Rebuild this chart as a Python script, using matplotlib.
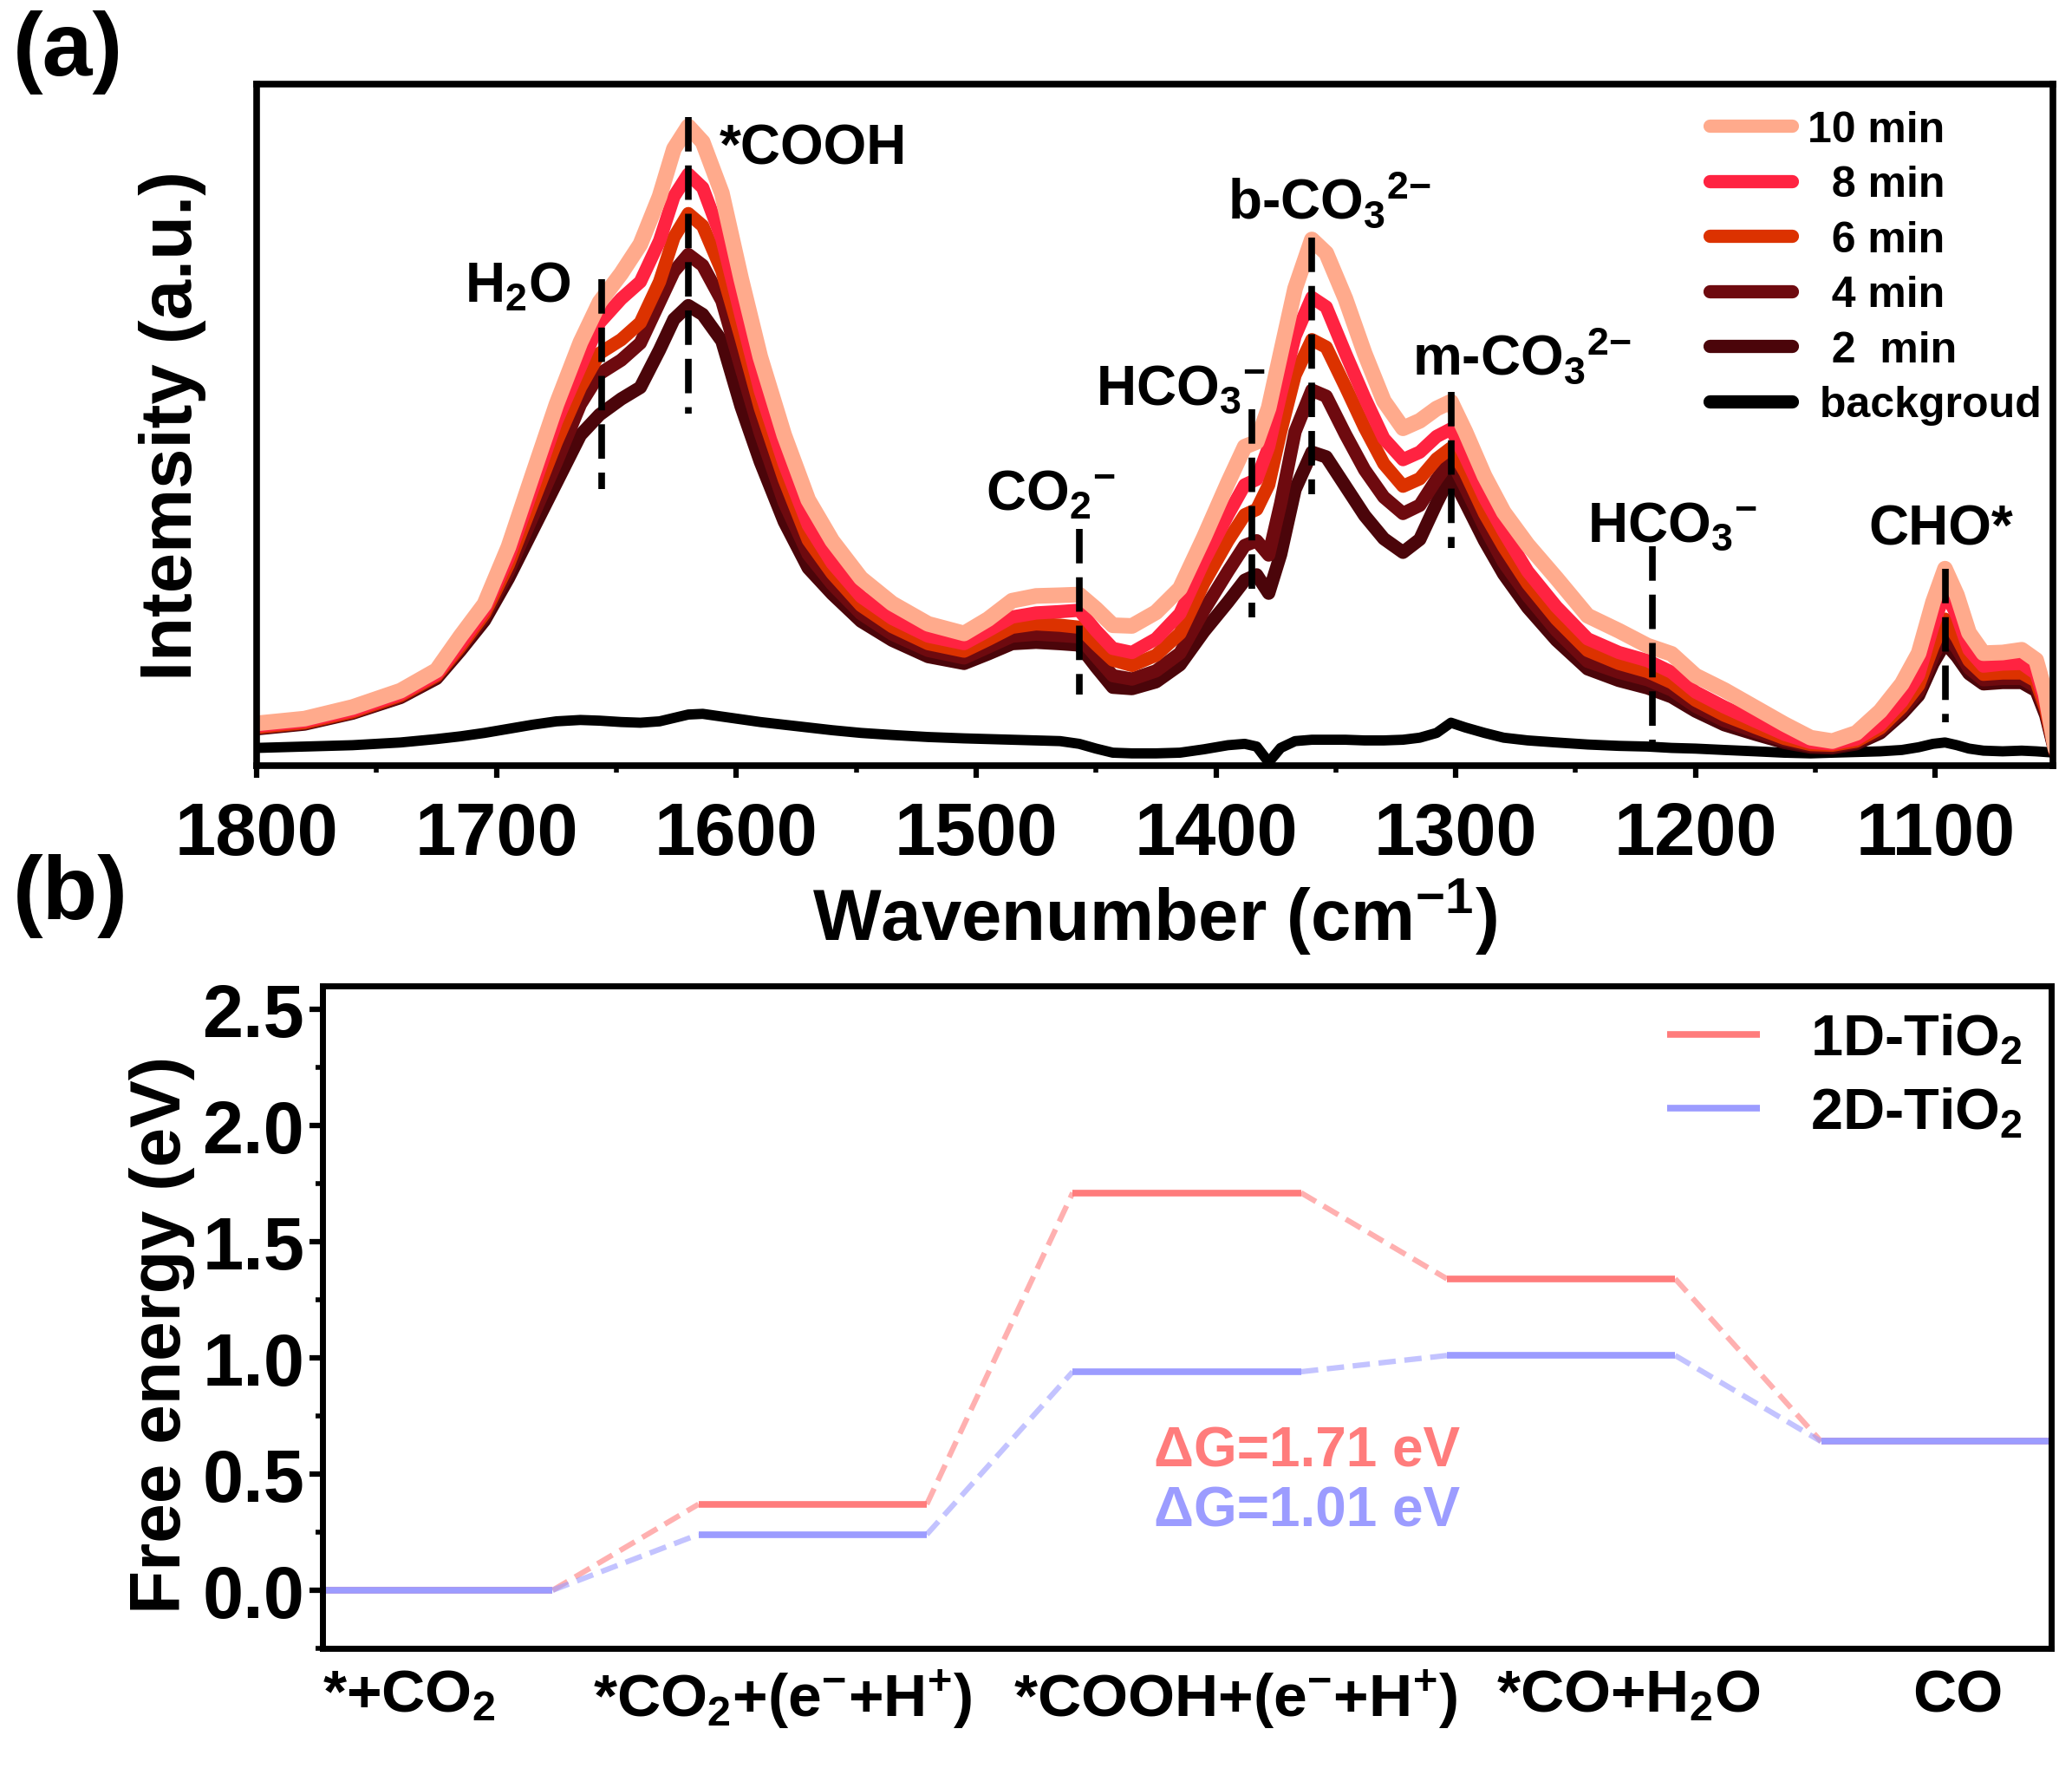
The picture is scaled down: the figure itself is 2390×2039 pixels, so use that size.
import matplotlib
matplotlib.use("Agg")
import matplotlib.pyplot as plt
from matplotlib.ticker import MultipleLocator, FormatStrFormatter

plt.rcParams["font.family"] = ["Liberation Sans", "DejaVu Sans"]
plt.rcParams["font.weight"] = "bold"
plt.rcParams["mathtext.fontset"] = "custom"
for k in ("rm", "it", "bf", "sf"):
    plt.rcParams["mathtext." + k] = "Liberation Sans:bold"

# ---- (a) in-situ spectra (a.u., 0 = bottom spine, 100 = top) ----
WN = [1800, 1780, 1760, 1740, 1725, 1715, 1705, 1695, 1685, 1675,
      1665, 1657, 1648, 1640, 1632, 1626, 1620, 1614, 1606, 1598,
      1590, 1580, 1570, 1560, 1548, 1535, 1520, 1505, 1495, 1485,
      1475, 1465, 1457, 1450, 1443, 1435, 1425, 1415, 1405, 1395,
      1388, 1383, 1378, 1373, 1367, 1360, 1354, 1346, 1338, 1330,
      1322, 1315, 1308, 1302, 1296, 1288, 1280, 1270, 1258, 1245,
      1232, 1220, 1210, 1200, 1188, 1175, 1163, 1152, 1143, 1133,
      1123, 1114, 1107, 1101, 1096, 1091, 1086, 1080, 1072, 1064,
      1058, 1054, 1050]

I_10 = [6.2, 6.9, 8.6, 11.0, 14.0, 19.0, 23.7, 32.1, 42.6, 53.0,
        62.1, 68.0, 72.2, 76.5, 83.5, 90.5, 93.8, 91.5, 84.0, 71.5,
        60.0, 48.5, 39.0, 33.0, 27.5, 23.8, 20.8, 19.4, 21.5, 24.2,
        24.9, 25.0, 25.1, 23.0, 20.6, 20.5, 22.5, 26.0, 33.5, 41.5,
        46.8, 47.5, 52.5, 60.5, 70.0, 77.2, 75.2, 68.5, 60.5, 53.5,
        49.5, 50.6, 52.4, 53.4, 49.0, 42.5, 37.2, 32.4, 27.5, 22.0,
        19.8, 17.6, 16.4, 13.2, 11.1, 8.5, 6.1, 4.1, 3.6, 4.8,
        8.0, 12.0, 16.5, 24.0, 28.9, 25.0, 19.5, 16.5, 16.6, 17.0,
        15.5, 10.5, 2.5]

I_8 = [5.8, 6.5, 8.1, 10.5, 13.4, 17.9, 22.8, 30.5, 40.5, 50.5,
       58.5, 65.0, 68.5, 71.0, 77.0, 83.5, 86.8, 84.8, 77.3, 66.0,
       55.0, 44.3, 35.3, 29.7, 24.8, 21.6, 19.0, 17.9, 19.8, 21.8,
       22.4, 22.6, 22.8, 19.8, 17.2, 16.6, 18.6, 22.3, 30.0, 36.8,
       41.2, 42.0, 46.8, 54.5, 63.0, 68.7, 67.3, 60.5, 54.0, 48.0,
       44.9, 46.0, 48.3, 49.4, 45.3, 39.3, 34.3, 28.5, 23.3, 18.6,
       16.6, 15.4, 13.7, 10.8, 8.6, 6.5, 4.6, 3.4, 3.2, 3.9,
       6.0, 9.4, 13.3, 20.5, 25.5, 22.0, 17.0, 14.6, 14.9, 15.0,
       13.5, 9.0, 2.2]

I_6 = [5.6, 6.3, 7.9, 10.3, 13.2, 17.5, 22.3, 29.5, 38.5, 47.5,
       55.5, 60.5, 62.5, 65.0, 71.0, 77.5, 81.0, 79.2, 72.6, 62.8,
       52.5, 42.0, 33.1, 28.2, 23.5, 20.4, 17.9, 16.8, 18.5, 20.3,
       20.8, 20.6, 20.3, 17.8, 15.5, 14.7, 16.2, 19.4, 26.8, 33.0,
       36.8, 37.6, 41.2, 49.0, 57.3, 62.5, 61.4, 55.6, 49.6, 44.3,
       41.0, 42.1, 45.0, 46.6, 43.0, 37.0, 32.1, 26.7, 21.5, 16.9,
       15.0, 13.8, 12.2, 9.6, 7.4, 5.6, 4.0, 3.1, 3.0, 3.6,
       5.5, 8.6, 11.8, 17.5, 21.5, 18.8, 15.4, 13.4, 13.6, 13.6,
       12.4, 8.3, 2.0]

I_4 = [5.5, 6.2, 7.8, 10.1, 13.0, 17.2, 21.8, 28.5, 36.5, 44.5,
       53.0, 57.5, 59.5, 62.0, 68.0, 72.5, 75.0, 73.4, 68.2, 58.4,
       48.8, 38.6, 31.0, 26.6, 22.3, 19.3, 16.9, 15.8, 17.4, 19.0,
       19.3, 19.1, 18.9, 16.0, 13.2, 12.7, 13.9, 16.5, 22.8, 28.5,
       32.3, 33.0, 30.9, 38.5, 49.0, 55.1, 54.2, 48.6, 43.4, 39.4,
       37.0, 38.2, 42.0, 44.9, 40.8, 35.0, 29.8, 24.9, 19.8, 15.3,
       13.7, 12.6, 11.1, 8.7, 6.6, 5.0, 3.7, 2.9, 2.8, 3.4,
       5.1, 8.0, 10.9, 16.0, 19.5, 17.2, 14.3, 12.6, 12.8, 12.8,
       11.6, 7.8, 1.9]

I_2 = [5.4, 6.1, 7.7, 10.0, 12.8, 16.9, 21.3, 27.5, 34.5, 41.5,
       48.5, 51.5, 53.8, 55.5, 61.0, 65.5, 67.5, 66.2, 62.3, 52.7,
       44.6, 35.8, 29.0, 25.2, 21.2, 18.4, 16.0, 15.0, 16.4, 17.9,
       18.1, 17.9, 17.7, 14.5, 11.5, 11.3, 12.3, 14.8, 19.7, 24.0,
       27.2, 28.0, 25.3, 31.0, 40.5, 46.0, 45.3, 41.0, 36.7, 33.3,
       31.3, 33.2, 38.5, 42.7, 38.6, 33.0, 28.1, 23.2, 18.4, 14.2,
       12.5, 11.4, 10.1, 8.0, 6.0, 4.6, 3.4, 2.7, 2.6, 3.2,
       4.8, 7.6, 10.3, 15.0, 18.0, 16.0, 13.5, 12.0, 12.2, 12.2,
       11.0, 7.4, 1.8]

I_BG = [2.6, 2.8, 3.0, 3.4, 3.9, 4.3, 4.8, 5.4, 6.0, 6.5,
        6.7, 6.6, 6.4, 6.3, 6.5, 7.0, 7.5, 7.6, 7.2, 6.8,
        6.4, 6.0, 5.6, 5.2, 4.8, 4.5, 4.2, 4.0, 3.9, 3.8,
        3.7, 3.6, 3.2, 2.5, 1.9, 1.8, 1.8, 1.9, 2.4, 3.0,
        3.2, 2.8, 0.5, 2.6, 3.6, 3.8, 3.8, 3.8, 3.7, 3.7,
        3.8, 4.1, 4.8, 6.3, 5.6, 4.8, 4.1, 3.7, 3.4, 3.1,
        2.9, 2.8, 2.6, 2.5, 2.3, 2.1, 1.9, 1.8, 1.9, 2.0,
        2.1, 2.3, 2.7, 3.2, 3.4, 3.0, 2.5, 2.2, 2.1, 2.2,
        2.1, 2.0, 1.9]

SERIES = [I_10, I_8, I_6, I_4, I_2, I_BG]
SERIES_LABELS = ["10 min", "  8 min", "  6 min", "  4 min", "  2  min", " backgroud"]
SERIES_COLORS = ["#FFAA8C", "#FF2341", "#DC3200", "#6E0A0F", "#4B050A", "#000000"]

PEAK_WN = [1656, 1620, 1457, 1385, 1360, 1302, 1218, 1096]
PEAK_LO = [40.6, 51.6, 10.4, 21.7, 39.8, 31.9, 3.0, 6.4]
PEAK_HI = [71.4, 95.2, 34.7, 52.3, 77.5, 54.8, 32.2, 28.9]
PEAK_NAMES = ["H$_2$O", "*COOH", "CO$_2$$^{-}$", "HCO$_3$$^{-}$",
              "b-CO$_3$$^{2{-}}$", "m-CO$_3$$^{2{-}}$", "HCO$_3$$^{-}$", "CHO*"]

# ---- (b) free energy diagram ----
STEPS = ["*+CO$_2$", "*CO$_2$+(e$^{-}$+H$^{+}$)", "*COOH+(e$^{-}$+H$^{+}$)",
         "*CO+H$_2$O", "CO"]
G_1D = [0.0, 0.37, 1.71, 1.34, 0.64]
G_2D = [0.0, 0.24, 0.94, 1.01, 0.64]
DG_1D = 1.71
DG_2D = 1.01

W, H = 2390, 2040
fig = plt.figure(figsize=(W / 100, H / 100), dpi=100)

# ================= (a) =================
ax = fig.add_axes([296 / W, 1 - 884 / H, (2368 - 296) / W, (884 - 98) / H])
widths = [13, 11, 11, 11, 11, 8.5]
handles = []
for ys, lbl, c, lw in reversed(list(zip(SERIES, SERIES_LABELS, SERIES_COLORS, widths))):
    ln, = ax.plot(WN, ys, color=c, lw=lw, label=lbl,
                  solid_joinstyle="round", solid_capstyle="round")
    handles.insert(0, ln)
handles[-1].set_zorder(1.5)

for wn, lo, hi in zip(PEAK_WN, PEAK_LO, PEAK_HI):
    ax.plot([wn, wn], [hi, lo], color="black", lw=5.5, dashes=(5.2, 2.1), zorder=6)

lab_pos = [(1669, 68.1, "right"), (1607, 88.3, "left"), (1496, 37.6, "left"),
           (1450, 53.1, "left"), (1395, 80.3, "left"), (1318, 57.4, "left"),
           (1245, 33.0, "left"), (1128, 32.5, "left")]
for name, (x, y, ha) in zip(PEAK_NAMES, lab_pos):
    ax.text(x, y, name, fontsize=46, fontweight="bold", ha=ha, va="baseline", zorder=7)

ax.set_xlim(1800, 1051)
ax.set_ylim(0, 100)
ax.set_yticks([])
ax.xaxis.set_major_locator(MultipleLocator(100))
ax.xaxis.set_minor_locator(MultipleLocator(50))
ax.tick_params(axis="x", which="major", direction="out", length=10, width=4.5,
               labelsize=61, pad=19)
ax.tick_params(axis="x", which="minor", direction="out", length=6, width=4)
for s in ax.spines.values():
    s.set_linewidth(5.5)
ax.set_xlabel("Wavenumber (cm$^{-1}$)", fontsize=60, fontweight="bold")
ax.xaxis.set_label_coords(0.5, -0.162)
ax.set_ylabel("Intemsity (a.u.)", fontsize=60, fontweight="bold", va="center")
ax.yaxis.set_label_coords(-0.047, 0.5)

leg = ax.legend(handles=handles, loc="upper left", bbox_to_anchor=(0.809, 0.962),
                frameon=False, fontsize=36, handlelength=1.9, handletextpad=0.35,
                labelspacing=0.35, borderpad=0, borderaxespad=0)
for h in leg.legend_handles:
    h.set_linewidth(11)

# ================= (b) =================
bx = fig.add_axes([372 / W, 1 - 1902 / H, (2366 - 372) / W, (1902 - 1138) / H])
half = 0.305
c1, c2 = "#FF7C7C", "#9C9CFF"
for G, c, lbl in ((G_1D, c1, "1D-TiO$_2$"), (G_2D, c2, "2D-TiO$_2$")):
    for i, g in enumerate(G):
        bx.plot([i - half, i + half], [g, g], color=c, lw=5.5,
                solid_capstyle="butt", label=lbl if i == 0 else None)
    for i in range(len(G) - 1):
        bx.plot([i + half, i + 1 - half], [G[i], G[i + 1]], color=c, alpha=0.6,
                lw=4.5, dashes=(3.2, 1.6))

bx.text(2.32, 0.60, f"\u0394G={DG_1D:.2f} eV", color=c1, fontsize=46,
        fontweight="bold", ha="center", va="center")
bx.text(2.32, 0.343, f"\u0394G={DG_2D:.2f} eV", color=c2, fontsize=46,
        fontweight="bold", ha="center", va="center")

bx.set_xlim(-0.31, 4.31)
bx.set_ylim(-0.25, 2.6)
shift = [-0.08, -0.08, 0.13, 0.18, 0.06]
bx.set_xticks([i + s for i, s in enumerate(shift)])
bx.set_xticklabels(STEPS)
bx.tick_params(axis="x", length=0, labelsize=50, pad=16)
bx.yaxis.set_major_locator(MultipleLocator(0.5))
bx.yaxis.set_minor_locator(MultipleLocator(0.25))
bx.yaxis.set_major_formatter(FormatStrFormatter("%.1f"))
bx.tick_params(axis="y", which="major", direction="out", length=11, width=4.5,
               labelsize=61, pad=4)
bx.tick_params(axis="y", which="minor", direction="out", length=6, width=4)
for s in bx.spines.values():
    s.set_linewidth(5)
bx.set_ylabel("Free energy (eV)", fontsize=59, fontweight="bold", va="center")
bx.yaxis.set_label_coords(-0.093, 0.475)
bx.legend(loc="upper left", bbox_to_anchor=(0.778, 0.959), frameon=False,
          fontsize=48, handlelength=1.6, handletextpad=0.87, labelspacing=0.33,
          borderpad=0, borderaxespad=0)

fig.text(15 / W, 1 - 12 / H, "(a)", fontsize=75, fontweight="bold", ha="left", va="top")
fig.text(15 / W, 1 - 985 / H, "(b)", fontsize=75, fontweight="bold", ha="left", va="top")

fig.savefig("out.png", dpi=100)
